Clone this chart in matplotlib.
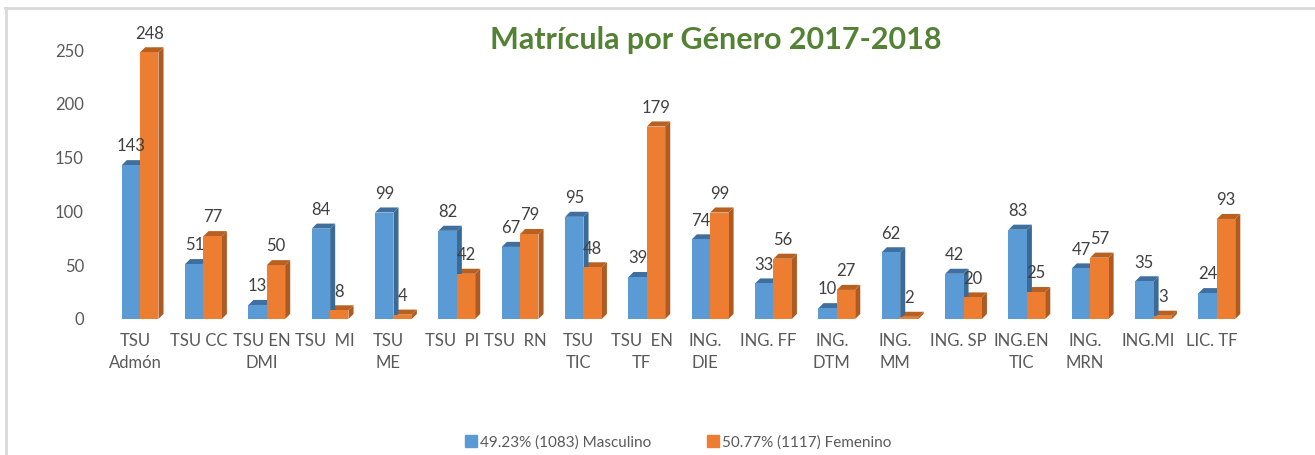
import numpy as np
from matplotlib import pyplot as plt
from matplotlib.patches import Polygon
from matplotlib.lines import Line2D

plt.rcParams['font.family'] = ['Lato', 'DejaVu Sans']

carreras = ["TSU\nAdmón", "TSU CC", "TSU EN\nDMI", "TSU  MI", "TSU\nME", "TSU  PI",
            "TSU  RN", "TSU\nTIC", "TSU  EN\nTF", "ING.\nDIE", "ING. FF", "ING.\nDTM",
            "ING.\nMM", "ING. SP", "ING.EN\nTIC", "ING.\nMRN", "ING.MI", "LIC. TF"]
masculino = [143, 51, 13, 84, 99, 82, 67, 95, 39, 74, 33, 10, 62, 42, 83, 47, 35, 24]
femenino = [248, 77, 50, 8, 4, 42, 79, 48, 179, 99, 56, 27, 2, 20, 25, 57, 3, 93]
leyenda = ["49.23% (1083) Masculino", "50.77% (1117) Femenino"]
titulo = "Matrícula por Género 2017-2018"

# colores: frente, lado, tapa
azul = ("#5B9BD5", "#3B6A96", "#3F6F9E")
naranja = ("#ED7D31", "#AE5A21", "#B8601F")
gris = "#595959"

fig = plt.figure(figsize=(13.15, 4.55), dpi=100)
ax = fig.add_axes([0.0786, 0.299, 0.867, 0.638])

w = 0.29      # ancho de barra
shift = 0.08  # desplazamiento del grupo (perspectiva)
dx = 0.08     # profundidad en x
dy = 4.7      # profundidad en y


def barra3d(x0, h, cols):
    ax.add_patch(Polygon([(x0, 0), (x0 + w, 0), (x0 + w, h), (x0, h)],
                         closed=True, fc=cols[0], ec='none', zorder=3))
    ax.add_patch(Polygon([(x0 + w, 0), (x0 + w + dx, dy), (x0 + w + dx, h + dy), (x0 + w, h)],
                         closed=True, fc=cols[1], ec='none', zorder=2))
    ax.add_patch(Polygon([(x0, h), (x0 + w, h), (x0 + w + dx, h + dy), (x0 + dx, h + dy)],
                         closed=True, fc=cols[2], ec='none', zorder=2))


x = np.arange(len(carreras))
for i in x:
    xb = i + shift - w
    xo = i + shift
    barra3d(xo, femenino[i], naranja)
    barra3d(xb, masculino[i], azul)
    ax.annotate(str(masculino[i]), (xb + w / 2, masculino[i]), xytext=(0, 13.5),
                textcoords='offset points', ha='center', va='center', fontsize=12,
                color='#404040', zorder=5)
    ax.annotate(str(femenino[i]), (xo + w / 2, femenino[i]), xytext=(0, 13.5),
                textcoords='offset points', ha='center', va='center', fontsize=12,
                color='#404040', zorder=5)

ax.set_xlim(-0.5, len(carreras) - 0.5)
ax.set_ylim(0, 270)
ax.set_yticks(range(0, 251, 50))
ax.set_xticks(x)
ax.set_xticklabels(carreras, linespacing=1.45)
ax.tick_params(axis='both', length=0, labelsize=12, labelcolor=gris)
ax.tick_params(axis='x', pad=10)
ax.tick_params(axis='y', pad=14)
for s in ax.spines.values():
    s.set_visible(False)

fig.text(0.5445, 0.912, titulo, ha='center', va='center', fontsize=22,
         fontweight='bold', color='#548235')

handles = [Line2D([], [], marker='s', ls='none', color=azul[0], markersize=8),
           Line2D([], [], marker='s', ls='none', color=naranja[0], markersize=8)]
fig.legend(handles, leyenda, loc='center', bbox_to_anchor=(0.515, 0.028), ncol=2,
           frameon=False, fontsize=11, labelcolor=gris, handletextpad=0.1,
           columnspacing=3.5, handlelength=1.0)

# marco de la imagen
fig.add_artist(Line2D([5 / 1315, 1], [1 - 8 / 455] * 2, color='#D9D9D9', lw=2))
fig.add_artist(Line2D([6 / 1315] * 2, [0, 1 - 8 / 455], color='#D9D9D9', lw=2))

fig.savefig('out.png', dpi=100)
